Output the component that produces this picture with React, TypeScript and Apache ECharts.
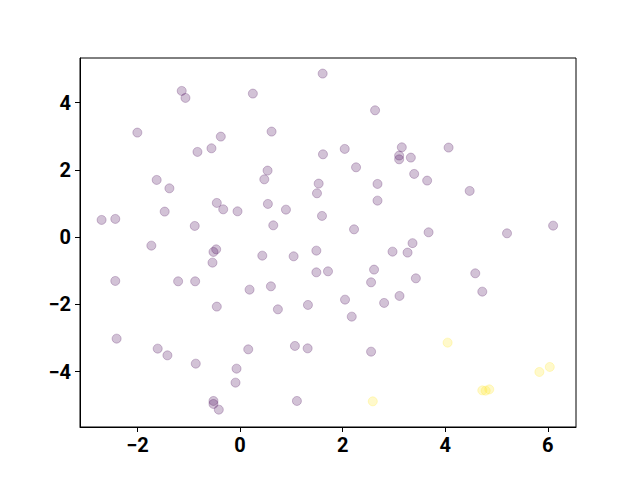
import React, { useEffect, useRef } from "react";
import * as echarts from "echarts";

const purpleX = [-1.137, -1.064, -2.002, -0.375, -0.83, -0.557, -1.625, -1.377, -0.453, -0.328, -0.049, -1.469, -2.699, -2.432, -0.883, -1.729, -0.465, -0.518, -0.537, -2.432, -1.207, -0.875, -0.453, -2.406, -1.605, -1.416, -0.863, -0.068, -0.088, -0.518, -0.518, -0.414, 1.611, 0.25, 2.633, 0.615, 3.154, 3.102, 3.102, 3.33, 2.041, 1.617, 2.262, 0.537, 0.473, 1.533, 1.5, 2.68, 2.68, 0.543, 0.895, 1.598, 0.648, 2.223, 4.066, 3.395, 3.648, 4.477, 3.676, 5.205, 6.104, 3.363, 0.434, 1.045, 1.488, 1.488, 1.715, 2.973, 3.266, 2.613, 2.555, 0.186, 0.602, 0.738, 1.324, 2.047, 2.178, 2.809, 3.109, 0.16, 1.07, 1.318, 2.555, 1.109, 3.428, 4.586, 4.723];
const purpleY = [4.351, 4.143, 3.11, 2.991, 2.536, 2.643, 1.702, 1.452, 1.018, 0.827, 0.768, 0.759, 0.512, 0.542, 0.333, -0.253, -0.363, -0.44, -0.759, -1.304, -1.315, -1.315, -2.068, -3.021, -3.318, -3.518, -3.765, -3.914, -4.33, -4.875, -4.964, -5.134, 4.866, 4.271, 3.774, 3.14, 2.673, 2.426, 2.315, 2.366, 2.625, 2.464, 2.077, 1.979, 1.72, 1.592, 1.304, 1.583, 1.086, 0.988, 0.818, 0.631, 0.351, 0.232, 2.664, 1.881, 1.682, 1.375, 0.143, 0.113, 0.342, -0.179, -0.551, -0.571, -0.402, -1.048, -1.018, -0.432, -0.461, -0.967, -1.345, -1.563, -1.464, -2.149, -2.018, -1.86, -2.366, -1.958, -1.75, -3.339, -3.238, -3.31, -3.408, -4.875, -1.226, -1.077, -1.622];

const yellowX = [2.588, 4.047, 4.723, 4.789, 4.859, 5.836, 6.039];
const yellowY = [-4.887, -3.14, -4.56, -4.568, -4.53, -4.012, -3.863];

const xTicks = [-2, 0, 2, 4, 6];
const yTicks = [-4, -2, 0, 2, 4];

const fmt = (v: number) => (v < 0 ? "\u2212" + Math.abs(v) : String(v));

export default function App() {
  const ref = useRef<HTMLDivElement>(null);
  useEffect(() => {
    if (!ref.current) return;
    const chart = echarts.init(ref.current, null, { renderer: "svg" });
    const labelStyle = {
      color: "#000",
      fontSize: 20,
      fontWeight: "bold" as const,
      fontFamily: "Roboto",
      formatter: (v: number) => fmt(v),
    };
    chart.setOption({
      animation: false,
      backgroundColor: "#fff",
      grid: {
        left: 80,
        right: 64,
        top: 58,
        bottom: 53,
        show: true,
        borderColor: "#000",
        borderWidth: 1,
        backgroundColor: "transparent",
      },
      xAxis: {
        type: "value",
        min: -3.12,
        max: 6.55,
        splitLine: { show: false },
        axisLine: { show: true, onZero: false, lineStyle: { color: "#000" } },
        axisTick: { show: true, length: 5, lineStyle: { color: "#000" }, customValues: xTicks },
        axisLabel: { ...labelStyle, margin: 8, customValues: xTicks },
      },
      yAxis: {
        type: "value",
        min: -5.65,
        max: 5.33,
        splitLine: { show: false },
        axisLine: { show: true, onZero: false, lineStyle: { color: "#000" } },
        axisTick: { show: true, length: 5, lineStyle: { color: "#000" }, customValues: yTicks },
        axisLabel: { ...labelStyle, margin: 9, customValues: yTicks },
      },
      series: [
        {
          type: "scatter",
          symbolSize: 9,
          data: purpleX.map((x, i) => [x, purpleY[i]]),
          itemStyle: {
            color: "rgba(68,1,84,0.3)",
            borderColor: "rgba(68,1,84,0.3)",
            borderWidth: 1,
          },
        },
        {
          type: "scatter",
          symbolSize: 9,
          data: yellowX.map((x, i) => [x, yellowY[i]]),
          itemStyle: {
            color: "rgba(253,231,37,0.3)",
            borderColor: "rgba(253,231,37,0.3)",
            borderWidth: 1,
          },
        },
      ],
    });
    return () => chart.dispose();
  }, []);
  return (
    <div
      ref={ref}
      style={{ position: "fixed", left: 0, top: 0, width: 640, height: 480, background: "#fff" }}
    />
  );
}
